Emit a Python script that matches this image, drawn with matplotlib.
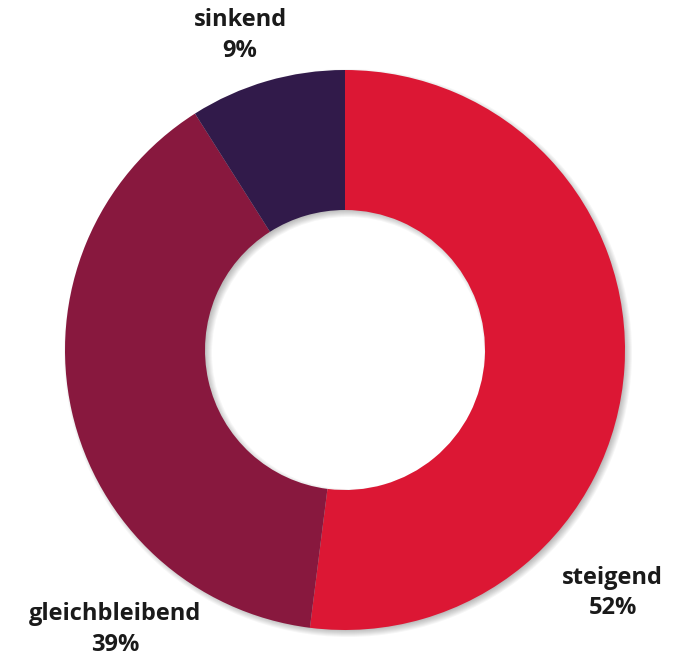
import matplotlib.pyplot as plt
from matplotlib.patches import Wedge

plt.rcParams['font.family'] = ['Open Sans', 'DejaVu Sans']

labels = ['steigend', 'gleichbleibend', 'sinkend']
shares = [52, 39, 9]
colors = ['#DC1734', '#88183E', '#311A4A']
# label anchor points in axes fractions
label_pos = [(0.888, 0.096), (0.167, 0.040), (0.348, 0.946)]

fig = plt.figure(figsize=(6.9, 6.56), dpi=100)
ax = fig.add_axes([0, 0, 1, 1])

cx, cy, r, w = 345, 306, 280, 140

# soft drop shadow under the ring
for k in range(8):
    ax.add_patch(Wedge((cx + 3, cy - 3), r + 4 - k, 0, 360, width=w + 8 - 2 * k,
                       facecolor='black', edgecolor='none', alpha=0.035, zorder=1))

ax.pie(shares, colors=colors, startangle=90, counterclock=False,
       center=(cx, cy), radius=r, frame=True,
       wedgeprops=dict(width=w, edgecolor='none', zorder=2))
ax.set_xlim(0, 690)
ax.set_ylim(0, 656)
ax.set_aspect('equal')
ax.axis('off')

for name, val, (x, y) in zip(labels, shares, label_pos):
    ax.text(x, y, f'{name}\n{val}%', transform=ax.transAxes, ha='center', va='center',
            fontsize=17, fontweight='bold', color='#1a1a1a', linespacing=1.38, zorder=5)

fig.savefig('out.png', dpi=100)
